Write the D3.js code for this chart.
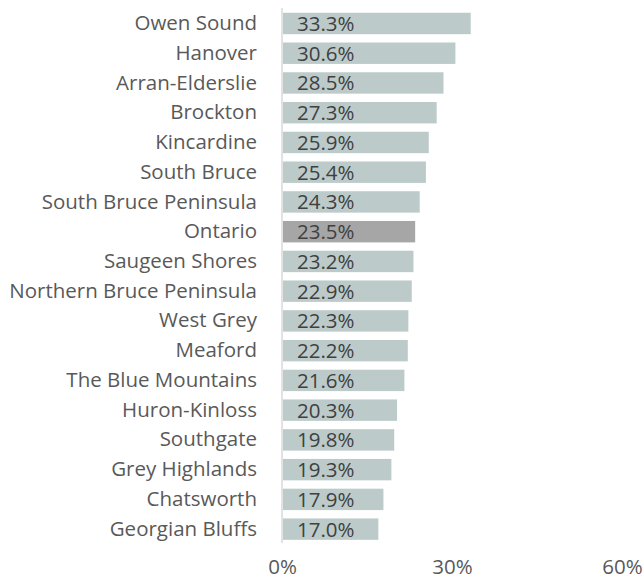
<html lang="en">

<head>
    <meta charset="UTF-8">
    <title>Bar Chart</title>
    <style>
        body { margin: 0; background: #fff; }
        text { font-family: "Open Sans", sans-serif; }
    </style>
</head>

<body>
    <script src="https://d3js.org/d3.v7.min.js"></script>
    <script>
        const w = 644;
        const h = 581;

        const places = ["Owen Sound", "Hanover", "Arran-Elderslie", "Brockton", "Kincardine",
            "South Bruce", "South Bruce Peninsula", "Ontario", "Saugeen Shores",
            "Northern Bruce Peninsula", "West Grey", "Meaford", "The Blue Mountains",
            "Huron-Kinloss", "Southgate", "Grey Highlands", "Chatsworth", "Georgian Bluffs"];
        const shares = [0.333, 0.306, 0.285, 0.273, 0.259, 0.254, 0.243, 0.235, 0.232,
            0.229, 0.223, 0.222, 0.216, 0.203, 0.198, 0.193, 0.179, 0.170];
        const xTicks = [0, 0.3, 0.6];
        const highlight = "Ontario";

        const data = places.map((p, i) => ({ place: p, share: shares[i] }));
        const fontSize = 20.5;

        const svg = d3.select("body")
            .append("svg")
            .attr("width", w)
            .attr("height", h);

        const x = d3.scaleLinear().domain([0, 0.6]).range([282, 622]);
        const y = d3.scaleBand()
            .domain(places)
            .range([8.6, 544])
            .paddingInner(0.28)
            .paddingOuter(0.14);

        const fmt = d3.format(".1%");

        // bars
        svg.selectAll("rect.bar")
            .data(data)
            .enter()
            .append("rect")
            .attr("class", "bar")
            .attr("x", x(0) + 1)
            .attr("y", d => y(d.place))
            .attr("width", d => x(d.share) - x(0) - 1)
            .attr("height", y.bandwidth())
            .attr("fill", d => d.place == highlight ? "#a6a6a6" : "#bccbca");

        // value labels inside bars
        svg.selectAll("text.value")
            .data(data)
            .enter()
            .append("text")
            .attr("class", "value")
            .attr("x", x(0) + 15)
            .attr("y", d => y(d.place) + y.bandwidth() / 2)
            .attr("dy", "0.36em")
            .attr("font-size", fontSize)
            .attr("fill", "#404040")
            .text(d => fmt(d.share));

        // category axis
        const yAxis = d3.axisLeft(y).tickSize(0).tickPadding(25);
        const gy = svg.append("g")
            .attr("transform", "translate(" + x(0) + ",0)")
            .call(yAxis);
        gy.select(".domain").remove();
        gy.selectAll("text")
            .attr("font-size", fontSize)
            .attr("fill", "#595959")
            .style("font-family", "'Open Sans', sans-serif");

        svg.append("line")
            .attr("x1", x(0)).attr("x2", x(0))
            .attr("y1", 8).attr("y2", 543)
            .attr("stroke", "#d9d9d9")
            .attr("stroke-width", 1.5);

        // value axis (kept just inside the bottom edge)
        const xAxis = d3.axisBottom(x).tickValues(xTicks).tickFormat(d3.format(".0%")).tickSize(0);
        const gx = svg.append("g")
            .attr("transform", "translate(0,556)")
            .call(xAxis);
        gx.select(".domain").remove();
        gx.selectAll("text")
            .attr("font-size", fontSize)
            .attr("fill", "#595959")
            .style("font-family", "'Open Sans', sans-serif");
    </script>
</body>

</html>
